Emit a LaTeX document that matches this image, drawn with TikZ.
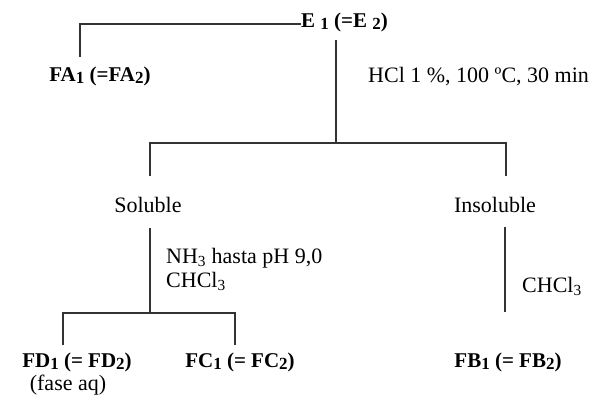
\documentclass[tikz,border=0pt]{standalone}
\usepackage{fontspec}
\setmainfont{Liberation Serif}
\newcommand{\lowsub}[1]{\raisebox{-0.3ex}{\fontsize{17}{17}\selectfont #1}}
\begin{document}
\begin{tikzpicture}[x=1pt,y=-1pt,
  conn/.style={draw=black!80,line width=1.2pt},
  txt/.style={inner sep=0pt,font=\fontsize{22}{24}\selectfont},
  bt/.style={inner sep=0pt,font=\fontsize{21}{24}\selectfont\bfseries}]
\useasboundingbox (0,0) rectangle (599,397);
% texts
\node[bt,anchor=west] (E) at (301,22) {E \lowsub{1} (=E \lowsub{2})};
\node[bt] (FA) at (100,76) {FA\lowsub{1} (=FA\lowsub{2})};
\node[txt,anchor=west] (hcl) at (368,77) {HCl 1 \%, 100 ºC, 30 min};
\node[txt] (sol) at (148,205) {Soluble};
\node[txt] (insol) at (495,205) {Insoluble};
\node[txt,anchor=west] (nh3) at (166,258) {NH\textsubscript{3} hasta pH 9,0};
\node[txt,anchor=west] (chclA) at (166,281) {CHCl\textsubscript{3}};
\node[txt,anchor=west] (chclB) at (522,286) {CHCl\textsubscript{3}};
\node[bt] (FD) at (77,362) {FD\lowsub{1} (= FD\lowsub{2})};
\node[txt] (aq) at (68,385) {(fase aq)};
\node[bt] (FC) at (240,362) {FC\lowsub{1} (= FC\lowsub{2})};
\node[bt] (FB) at (508,362) {FB\lowsub{1} (= FB\lowsub{2})};
% junction coordinates
\coordinate (eL) at (301,24);
\coordinate (faT) at (80,57);
\coordinate (eB) at (336,40);
\coordinate (j1) at (336,143);
\coordinate (solT) at (150,176);
\coordinate (insT) at (506,176);
\coordinate (solB) at (150,228);
\coordinate (j2) at (150,313);
\coordinate (fdT) at (63,345);
\coordinate (fcT) at (235,345);
\coordinate (insB) at (505,227);
\coordinate (fbT) at (505,312);
% connectors
\draw[conn] (eL) -| (faT);
\draw[conn] (eB) -- (j1);
\draw[conn] (j1) -| (solT);
\draw[conn] (j1) -| (insT);
\draw[conn] (solB) -- (j2);
\draw[conn] (j2) -| (fdT);
\draw[conn] (j2) -| (fcT);
\draw[conn] (insB) -- (fbT);
\end{tikzpicture}
\end{document}
